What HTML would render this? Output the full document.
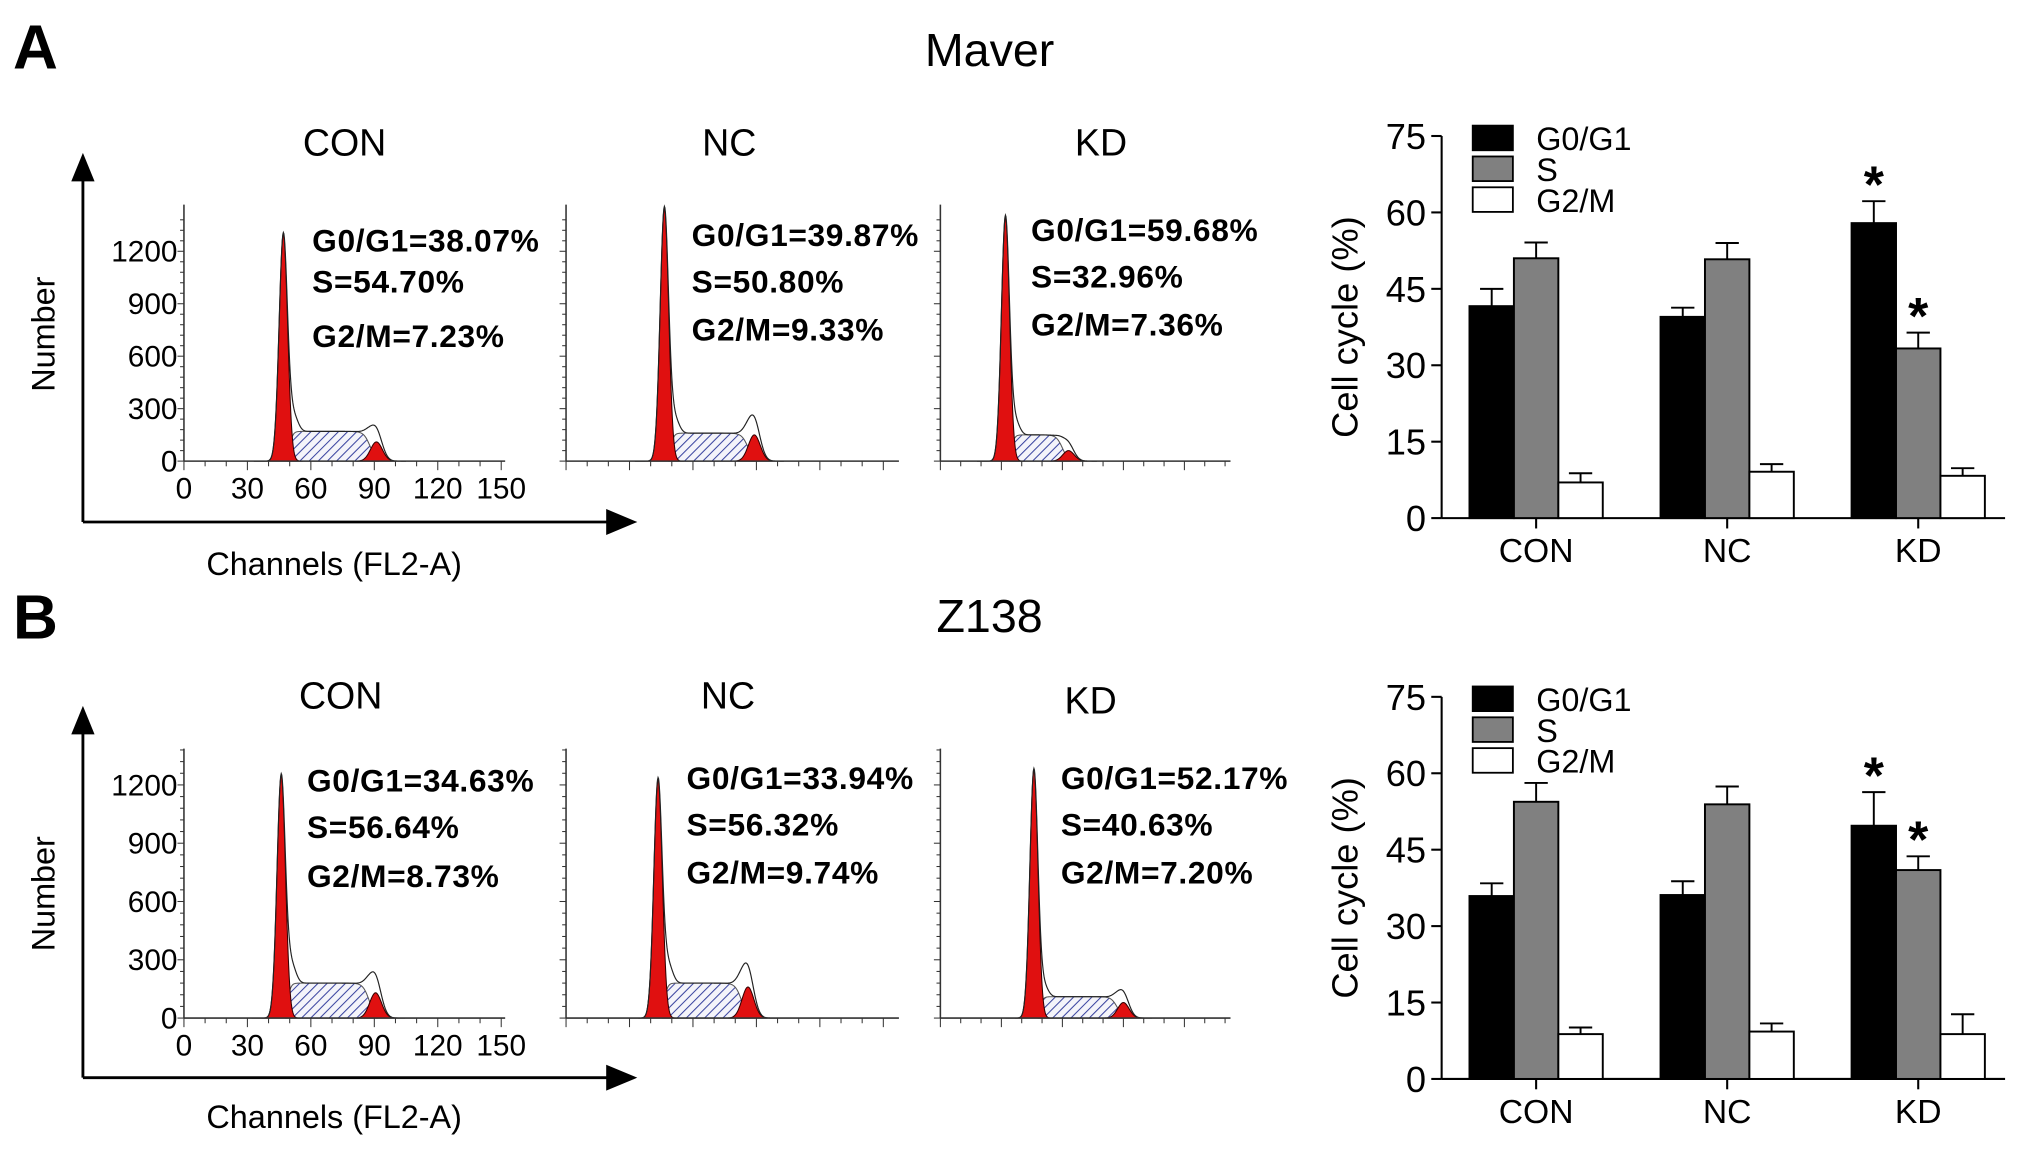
<!DOCTYPE html>
<html><head><meta charset="utf-8">
<style>
html,body{margin:0;padding:0;background:#fff;}
svg{display:block;font-family:"Liberation Sans",Arial,sans-serif;}
</style></head>
<body>
<svg id="fig" width="2031" height="1152" viewBox="0 0 1568 889.4" xmlns="http://www.w3.org/2000/svg">
<defs>
<pattern id="hatch" patternUnits="userSpaceOnUse" width="5" height="5" patternTransform="rotate(45)">
<rect width="5" height="5" fill="#f4f4fa"/>
<line x1="0" y1="0" x2="0" y2="5" stroke="#3a44a0" stroke-width="1.6"/>
</pattern>
</defs>
</svg>
<script>
// ---- Bar chart data ----
const categories = ["CON","NC","KD"];
const phases = ["G0/G1","S","G2/M"];
const barA_G1 = [41.6, 39.5, 57.9];
const barA_S  = [51.0, 50.8, 33.3];
const barA_G2 = [7.0, 9.1, 8.3];
const errA_G1 = [3.4, 1.8, 4.3];
const errA_S  = [3.1, 3.2, 3.1];
const errA_G2 = [1.8, 1.5, 1.5];
const barB_G1 = [35.9, 36.1, 49.7];
const barB_S  = [54.4, 53.9, 41.0];
const barB_G2 = [8.8, 9.3, 8.8];
const errB_G1 = [2.5, 2.7, 6.6];
const errB_S  = [3.7, 3.5, 2.7];
const errB_G2 = [1.3, 1.6, 3.9];
const starA = [[2,0],[2,1]];
const starB = [[2,0],[2,1]];
const yTicks = [0,15,30,45,60,75];
// ---- Histogram data ----
const histLabels = ["CON","NC","KD"];
const histA_G1ch = [47, 46.5, 32];
const histA_G1h  = [1300, 1450, 1400];
const histA_S    = [170, 160, 150];
const histA_G2ch = [91, 89, 63];
const histA_G2h  = [110, 150, 60];
const histB_G1ch = [46, 43.5, 46];
const histB_G1h  = [1250, 1230, 1280];
const histB_S    = [180, 180, 110];
const histB_G2ch = [90.6, 86, 90];
const histB_G2h  = [130, 160, 80];
const txtA = [["G0/G1=38.07%","S=54.70%","G2/M=7.23%"],["G0/G1=39.87%","S=50.80%","G2/M=9.33%"],["G0/G1=59.68%","S=32.96%","G2/M=7.36%"]];
const txtB = [["G0/G1=34.63%","S=56.64%","G2/M=8.73%"],["G0/G1=33.94%","S=56.32%","G2/M=9.74%"],["G0/G1=52.17%","S=40.63%","G2/M=7.20%"]];
const histTicks = [0,300,600,900,1200];
const chTicks = [0,30,60,90,120,150];

const svg = document.getElementById('fig');
const NS = "http://www.w3.org/2000/svg";
function mk(tag, attrs, parent){ const e=document.createElementNS(NS,tag); for(const k in attrs) e.setAttribute(k,attrs[k]); (parent||svg).appendChild(e); return e; }
function txt(s, x, y, size, opts, parent){ const e=mk('text',Object.assign({x:x,y:y,'font-size':size,fill:'#000'},opts||{}),parent); e.textContent=s; return e; }

function barChart(cfg){
  const g = mk('g',{});
  
  
  const x0=1113, xEnd=1548, y0=cfg.y0, y75=cfg.y75;
  const yS = v => y0 - (y0-y75)*v/75;
  const bw=34.3, groupStart=[1134.5,1282,1429.5];
  const ya = mk('line',{x1:x0,y1:y0,x2:x0,y2:y75,stroke:'#000','stroke-width':1.6},g);
   
  const xa = mk('line',{x1:x0,y1:y0,x2:xEnd,y2:y0,stroke:'#000','stroke-width':1.6},g);
   
  yTicks.forEach(t=>{
    mk('line',{x1:x0-8,y1:yS(t),x2:x0,y2:yS(t),stroke:'#000','stroke-width':1.6},g);
    const l = txt(String(t), x0-12, yS(t)+10, 28, {'text-anchor':'end'}, g);
     
  });
  const series=[cfg.g1,cfg.s,cfg.g2], errs=[cfg.e1,cfg.es,cfg.e2], fills=['#000','#808080','#fff'];
  categories.forEach((c,i)=>{
    const cx = groupStart[i]+1.5*bw;
    mk('line',{x1:cx,y1:y0,x2:cx,y2:y0+8,stroke:'#000','stroke-width':1.6},g);
    const l = txt(c, cx, y0+34, 26, {'text-anchor':'middle'}, g);
     
    series.forEach((ser,j)=>{
      const bx = groupStart[i]+j*bw, v=ser[i], top=yS(v), etop=yS(v+errs[j][i]);
      const r = mk('rect',{x:bx,y:top,width:bw,height:y0-top,fill:fills[j],stroke:'#000','stroke-width':1.5},g);
      
      
      const em = bx+bw/2;
      mk('line',{x1:em,y1:top,x2:em,y2:etop,stroke:'#000','stroke-width':1.5},g);
      mk('line',{x1:em-9,y1:etop,x2:em+9,y2:etop,stroke:'#000','stroke-width':1.5},g);
    });
  });
  cfg.stars.forEach(([i,j])=>{
    const ser=series[j], bx=groupStart[i]+j*bw+bw/2;
    const st = txt('*', bx, yS(ser[i]+errs[j][i])+1, 40, {'text-anchor':'middle','font-weight':'bold'}, g);
     
  });
  const yt = txt('Cell cycle (%)', 0, 0, 28, {'text-anchor':'middle',transform:`translate(1048,${(y0+y75)/2}) rotate(-90)`}, g);
   
  phases.forEach((p,j)=>{
    const ly = y75-8+j*23.8;
    const lr = mk('rect',{x:1137,y:ly,width:31,height:19,fill:fills[j],stroke:'#000','stroke-width':1.4},g);
     
    const lt = txt(p, 1186, ly+19, 25, {}, g);
     
  });
}
barChart({name:'bar-chart-maver',y0:400,y75:105,g1:barA_G1,s:barA_S,g2:barA_G2,e1:errA_G1,es:errA_S,e2:errA_G2,stars:starA});
barChart({name:'bar-chart-z138',y0:833,y75:538,g1:barB_G1,s:barB_S,g2:barB_G2,e1:errB_G1,es:errB_S,e2:errB_G2,stars:starB});

function gauss(x,m,s){return Math.exp(-0.5*((x-m)/s)*((x-m)/s));}
function histPanel(o){
  const g = mk('g',{});
  
  
  const ax=o.ax, base=o.base, pxc=o.pxc, pyc=o.pyc, top=o.top, w=o.w;
  const X = c => ax + c*pxc, Y = n => base - n*pyc;
  const g1m=o.g1ch, g2m=o.g2ch, sA=g1m+3, sB=g2m-3;
  const sf = c => o.s * (1/(1+Math.exp(-(c-sA)/0.8))) * (1/(1+Math.exp((c-sB)/1.5)));
  const g1 = c => o.g1h*gauss(c,g1m,2.0);
  const g2 = c => o.g2h*gauss(c,g2m,2.8);
  const chs=[]; for(let c=Math.max(0,g1m-14); c<=g2m+14; c+=0.25) chs.push(c);
  let d='M'+X(sA-1)+','+base; chs.forEach(c=>{ if(c>=sA-1&&c<=sB+4) d+=' L'+X(c)+','+Y(sf(c)); }); d+=' L'+X(sB+4)+','+base+' Z';
  const sp = mk('path',{d:d,fill:'url(#hatch)',stroke:'#555','stroke-width':0.8},g);
   
  [[g1,g1m,'g1-peak'],[g2,g2m,'g2m-peak']].forEach(([f,m,n])=>{
    let p='M'+X(m-9)+','+base; for(let c=m-9;c<=m+9;c+=0.25) p+=' L'+X(c)+','+Y(f(c)); p+=' L'+X(m+9)+','+base+' Z';
    const pk = mk('path',{d:p,fill:'#e01010',stroke:'#300','stroke-width':0.8},g);
     
  });
  let od=''; chs.forEach((c,i)=>{ const v=g1(c)+g2(c)+sf(c)+o.g2h*0.6*gauss(c,g2m-1,3)+o.s*0.5*gauss(c,g1m+5,2); od+=(i?' L':'M')+X(c)+','+Y(v); });
  mk('path',{d:od,fill:'none',stroke:'#222','stroke-width':0.9},g);
  mk('line',{x1:ax,y1:base,x2:ax,y2:top,stroke:'#333','stroke-width':1.2},g);
  mk('line',{x1:ax,y1:base,x2:ax+w,y2:base,stroke:'#333','stroke-width':1.2},g);
  for(let n=0;n<=1400;n+=60){ const L=(n%300===0)?5:3; mk('line',{x1:ax-L,y1:Y(n),x2:ax,y2:Y(n),stroke:'#333','stroke-width':0.8},g);}
  for(let c=0;c*pxc<=w+1;c+=10){ const L=(c%30===0)?7:4; mk('line',{x1:X(c),y1:base,x2:X(c),y2:base+L,stroke:'#333','stroke-width':0.8},g);}
  if(o.labels){
    histTicks.forEach(t=>{ const l=txt(String(t),ax-5,Y(t)+8,23,{'text-anchor':'end'},g);  });
    chTicks.forEach(t=>{ const l=txt(String(t),X(t),base+29,23,{'text-anchor':'middle'},g);  });
  }
  o.text.forEach((s,i)=>{ const l=txt(s,o.tx,o.ty[i]+1,24.5,{'font-weight':'bold','letter-spacing':0.5},g);  });
  const tt = txt(o.label,o.titleX,o.titleY,29,{'text-anchor':'middle'},g);
   
}
const axA=[142,437,726], wA=[248,257,224], pxA=[1.633,1.633,1.57];
const txA=[241,534,796], tyA=[[193,225,267],[189,225,262],[185,221,258]], titA=[[266,120],[563,120],[850,120]];
const txB=[237,530,819], tyB=[[610,646,684],[608,644,681],[608,644,681]], titB=[[263,547],[562,547],[842,551]];
for(let i=0;i<3;i++){
  histPanel({panel:'maver',label:histLabels[i],ax:axA[i],w:wA[i],base:356,top:158,pxc:pxA[i],pyc:0.135,g1ch:histA_G1ch[i],g1h:histA_G1h[i],s:histA_S[i],g2ch:histA_G2ch[i],g2h:histA_G2h[i],labels:i===0,text:txtA[i],tx:txA[i],ty:tyA[i],titleX:titA[i][0],titleY:titA[i][1]});
  histPanel({panel:'z138',label:histLabels[i],ax:axA[i],w:wA[i],base:786,top:578,pxc:pxA[i],pyc:0.15,g1ch:histB_G1ch[i],g1h:histB_G1h[i],s:histB_S[i],g2ch:histB_G2ch[i],g2h:histB_G2h[i],labels:i===0,text:txtB[i],tx:txB[i],ty:tyB[i],titleX:titB[i][0],titleY:titB[i][1]});
}
[[403,118,'a',258,435,'Maver',38,'A',53],[832,545,'b',690,862,'Z138',475,'B',493]].forEach(([yb,yt,p,ny,cy,ttl,tty,letter,ly])=>{
  mk('line',{x1:64,y1:yb,x2:64,y2:yt+20,stroke:'#000','stroke-width':2.2});
  const ah=mk('polygon',{points:`55,${yt+22} 73,${yt+22} 64,${yt}`,fill:'#000'});
   
  mk('line',{x1:64,y1:yb,x2:470,y2:yb,stroke:'#000','stroke-width':2.2});
  const ah2=mk('polygon',{points:`468,${yb-10} 468,${yb+10} 492,${yb}`,fill:'#000'});
   
  const n=txt('Number',0,0,25,{'text-anchor':'middle',transform:`translate(42,${ny}) rotate(-90)`});
   
  const c=txt('Channels (FL2-A)',258,cy+9,25,{'text-anchor':'middle'});
   
  const t=txt(ttl,764,tty+13,36,{'text-anchor':'middle'});
   
  const L=txt(letter,10,ly,48,{'font-weight':'bold'});
   
});
</script>
</body></html>
